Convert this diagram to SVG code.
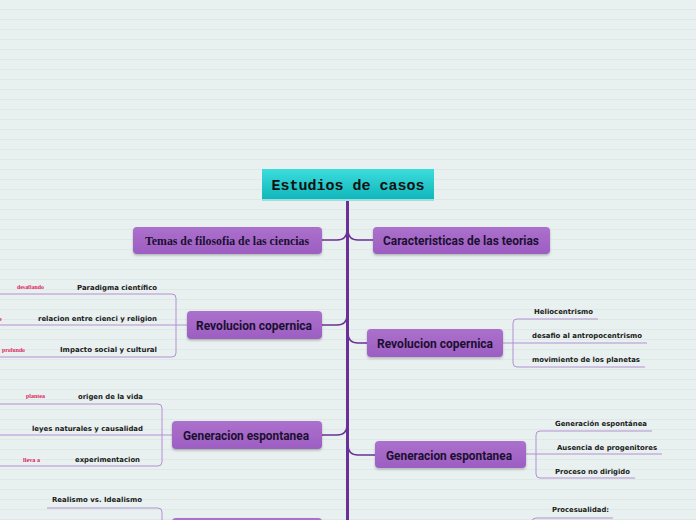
<svg xmlns="http://www.w3.org/2000/svg" width="696" height="520" viewBox="0 0 696 520">
<defs>
<pattern id="lines" x="0" y="0" width="696" height="10" patternUnits="userSpaceOnUse">
<rect x="0" y="0" width="696" height="10" fill="#e8f1f0"/>
<rect x="0" y="9" width="696" height="1" fill="#dee8e6"/>
</pattern>
<linearGradient id="gTeal" x1="0" y1="0" x2="0" y2="1">
<stop offset="0" stop-color="#3cdcdc"/>
<stop offset="1" stop-color="#0db4b8"/>
</linearGradient>
<linearGradient id="gPurple" x1="0" y1="0" x2="0" y2="1">
<stop offset="0" stop-color="#ab70cc"/>
<stop offset="1" stop-color="#9d5ec2"/>
</linearGradient>
<filter id="sh" x="-10%" y="-20%" width="120%" height="160%">
<feDropShadow dx="0" dy="1.5" stdDeviation="1" flood-color="#000" flood-opacity="0.25"/>
</filter>
</defs>
<style>
.node{fill:url(#gPurple);filter:url(#sh)}
.nt{font-family:"Roboto","Liberation Sans",sans-serif;font-weight:bold;font-size:12.5px;fill:#1b1030;text-anchor:middle}
.st{font-family:"DejaVu Sans","Liberation Sans",sans-serif;font-weight:bold;font-size:7px;fill:#1a1a1a}
.rl{font-family:"Liberation Serif",serif;font-weight:bold;font-size:6px;fill:#e0245e}
.main{fill:none;stroke:#6b2f98;stroke-width:1.5}
.sub{fill:none;stroke:#b58fd2;stroke-width:1}
</style>
<rect x="0" y="0" width="696" height="520" fill="url(#lines)"/>

<g id="connectors">
<line x1="347.5" y1="200" x2="347.5" y2="520" stroke="#6b2f98" stroke-width="3"/>
<path class="main" d="M322,240 L337,240 Q347,240 347,230"/>
<path class="main" d="M348,230 Q348,240 358,240 L373,240"/>
<path class="main" d="M322,325 L337,325 Q347,325 347,315"/>
<path class="main" d="M348,333 Q348,343 358,343 L367,343"/>
<path class="main" d="M322,435 L337,435 Q347,435 347,425"/>
<path class="main" d="M348,445 Q348,455 358,455 L375,455"/>
<path class="sub" d="M187,325 L0,325"/>
<path class="sub" d="M0,294 L172,294 Q176,294 176,298 L176,353 Q176,357 172,357 L0,357"/>
<path class="sub" d="M172,435 L0,435"/>
<path class="sub" d="M0,404 L158,404 Q162,404 162,408 L162,462 Q162,466 158,466 L0,466"/>
<path class="sub" d="M503,343 L647,343"/>
<path class="sub" d="M598,319 L517,319 Q513,319 513,323 L513,363 Q513,367 517,367 L645,367"/>
<path class="sub" d="M526,454 L662,454"/>
<path class="sub" d="M652,431 L540,431 Q536,431 536,435 L536,474 Q536,478 540,478 L635,478"/>
<path class="sub" d="M47,508 L158,508 Q162,508 162,512 L162,520"/>
<path class="sub" d="M613,518 L536,518 Q532,518 532,522"/>
</g>

<g id="root">
<rect x="262" y="169" width="172" height="32" fill="url(#gTeal)"/>
<rect x="262" y="199" width="172" height="2" fill="#9fdede"/>
<text x="348" y="190" font-family="Liberation Mono,monospace" font-weight="bold" font-size="15" fill="#111" text-anchor="middle" textLength="153" lengthAdjust="spacingAndGlyphs">Estudios de casos</text>
</g>

<g id="temas">
<rect class="node" x="133" y="227" width="189" height="27" rx="4"/>
<text x="227" y="245" font-family="Liberation Serif,serif" font-weight="bold" font-size="12.5" fill="#1b1030" text-anchor="middle" textLength="164" lengthAdjust="spacingAndGlyphs">Temas de filosofia de las ciencias</text>
</g>

<g id="caracteristicas">
<rect class="node" x="373" y="227" width="177" height="27" rx="4"/>
<text class="nt" x="461" y="245" textLength="156" lengthAdjust="spacingAndGlyphs">Caracteristicas de las teorias</text>
</g>

<g id="rev-left">
<rect class="node" x="187" y="311" width="135" height="28" rx="4"/>
<text class="nt" x="254" y="330" textLength="116" lengthAdjust="spacingAndGlyphs">Revolucion copernica</text>
</g>
<g id="rev-left-subs">
<text class="st" x="77" y="290" textLength="80" lengthAdjust="spacingAndGlyphs">Paradigma científico</text>
<text class="st" x="38" y="321" textLength="119" lengthAdjust="spacingAndGlyphs">relacion entre cienci y religion</text>
<text class="st" x="60" y="352" textLength="97" lengthAdjust="spacingAndGlyphs">Impacto social y cultural</text>
<text class="rl" x="17" y="289" textLength="27" lengthAdjust="spacingAndGlyphs">desafiando</text>
<text class="rl" x="-1" y="321">e</text>
<text class="rl" x="2" y="352" textLength="23" lengthAdjust="spacingAndGlyphs">profundo</text>
</g>

<g id="rev-right">
<rect class="node" x="367" y="329" width="136" height="28" rx="4"/>
<text class="nt" x="435" y="348" textLength="116" lengthAdjust="spacingAndGlyphs">Revolucion copernica</text>
</g>
<g id="rev-right-subs">
<text class="st" x="534" y="314" textLength="59" lengthAdjust="spacingAndGlyphs">Heliocentrismo</text>
<text class="st" x="532" y="338" textLength="110" lengthAdjust="spacingAndGlyphs">desafio al antropocentrismo</text>
<text class="st" x="532" y="362" textLength="108" lengthAdjust="spacingAndGlyphs">movimiento de los planetas</text>
</g>

<g id="gen-left">
<rect class="node" x="172" y="421" width="150" height="28" rx="4"/>
<text class="nt" x="246" y="440" textLength="126" lengthAdjust="spacingAndGlyphs">Generacion espontanea</text>
</g>
<g id="gen-left-subs">
<text class="st" x="78" y="399" textLength="65" lengthAdjust="spacingAndGlyphs">origen de la vida</text>
<text class="st" x="32" y="431" textLength="111" lengthAdjust="spacingAndGlyphs">leyes naturales y causalidad</text>
<text class="st" x="75" y="462" textLength="65" lengthAdjust="spacingAndGlyphs">experimentacion</text>
<text class="rl" x="26" y="398" textLength="19" lengthAdjust="spacingAndGlyphs">plantea</text>
<text class="rl" x="23" y="462" textLength="17" lengthAdjust="spacingAndGlyphs">lleva a</text>
</g>

<g id="gen-right">
<rect class="node" x="375" y="441" width="151" height="27" rx="4"/>
<text class="nt" x="449" y="460" textLength="126" lengthAdjust="spacingAndGlyphs">Generacion espontanea</text>
</g>
<g id="gen-right-subs">
<text class="st" x="555" y="426" textLength="92" lengthAdjust="spacingAndGlyphs">Generación espontánea</text>
<text class="st" x="557" y="450" textLength="100" lengthAdjust="spacingAndGlyphs">Ausencia de progenitores</text>
<text class="st" x="555" y="474" textLength="75" lengthAdjust="spacingAndGlyphs">Proceso no dirigido</text>
</g>

<g id="bottom-left">
<rect class="node" x="172" y="518" width="150" height="28" rx="4"/>
<text class="st" x="52" y="502" textLength="90" lengthAdjust="spacingAndGlyphs">Realismo vs. Idealismo</text>
</g>
<g id="bottom-right">
<text class="st" x="552" y="512" textLength="57" lengthAdjust="spacingAndGlyphs">Procesualidad:</text>
</g>
</svg>
